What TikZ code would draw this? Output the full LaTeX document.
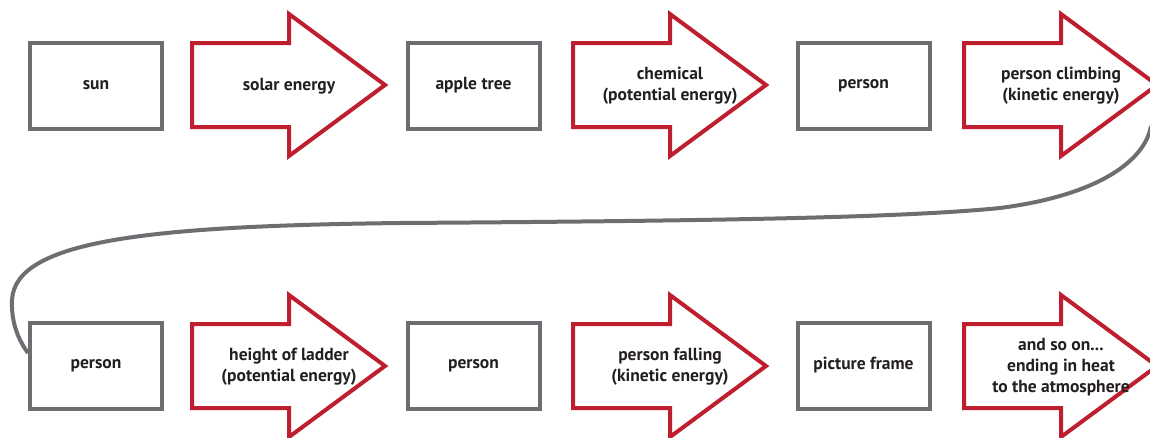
\documentclass[tikz,border=0pt]{standalone}
\usepackage{fontspec}
\setmainfont{PT Sans}
\definecolor{boxgray}{HTML}{6D6E71}
\definecolor{arrred}{HTML}{BE1E2D}
\definecolor{txt}{HTML}{231F20}
\tikzset{
  stagebox/.style={draw=boxgray, line width=4pt, rectangle, minimum width=132pt, minimum height=86pt, inner sep=0pt,
    font=\fontsize{17.5}{21}\selectfont\bfseries, text=txt, align=center},
  arrowshape/.style={draw=arrred, line width=4pt, line join=miter, fill=white},
  arrowlabel/.style={font=\fontsize{17.5}{21}\selectfont\bfseries, text=txt, align=center, inner sep=0pt},
  linkcurve/.style={draw=boxgray, line width=4pt}
}
\newcommand\energyarrow[4]{%
  \draw[arrowshape] (#2,#3-42) -- (#2+97,#3-42) -- (#2+97,#3-71) -- (#2+193,#3) -- (#2+97,#3+71) -- (#2+97,#3+42) -- (#2,#3+42) -- cycle;
  \node[arrowlabel] (#1) at (#2+97,#3+1) {#4};
}
\begin{document}
\begin{tikzpicture}[x=1pt,y=-1pt]
\useasboundingbox (0,0) rectangle (1150,437);
% row 2 first box (end of the curve)
\node[stagebox] (b4) at (96,365.5) {person};
% curve
\coordinate (cstart) at (1151,126);
\draw[linkcurve] (cstart) .. controls (1145,160) and (1100,195) .. (1000,208)
  .. controls (900,218) and (700,221) .. (400,223)
  .. controls (150,226) and (15,240) .. (12,300)
  .. controls (11,325) and (20,342) .. (b4.west |- 0,353);
% row 1
\node[stagebox] (b1) at (96,85.5) {sun};
\energyarrow{a1}{192}{85}{solar energy}
\node[stagebox] (b2) at (473.5,85.5) {apple tree};
\energyarrow{a2}{573}{85}{chemical\\(potential energy)}
\node[stagebox] (b3) at (863.5,85.5) {person};
\energyarrow{a3}{964}{85}{person climbing\\(kinetic energy)}
% row 2
\energyarrow{a4}{192}{366}{height of ladder\\(potential energy)}
\node[stagebox] (b5) at (473.5,365.5) {person};
\energyarrow{a5}{573}{366}{person falling\\(kinetic energy)}
\node[stagebox] (b6) at (863.5,365.5) {picture frame};
\energyarrow{a6}{964}{366}{and so on...\\ending in heat\\to the atmosphere}
\end{tikzpicture}
\end{document}
